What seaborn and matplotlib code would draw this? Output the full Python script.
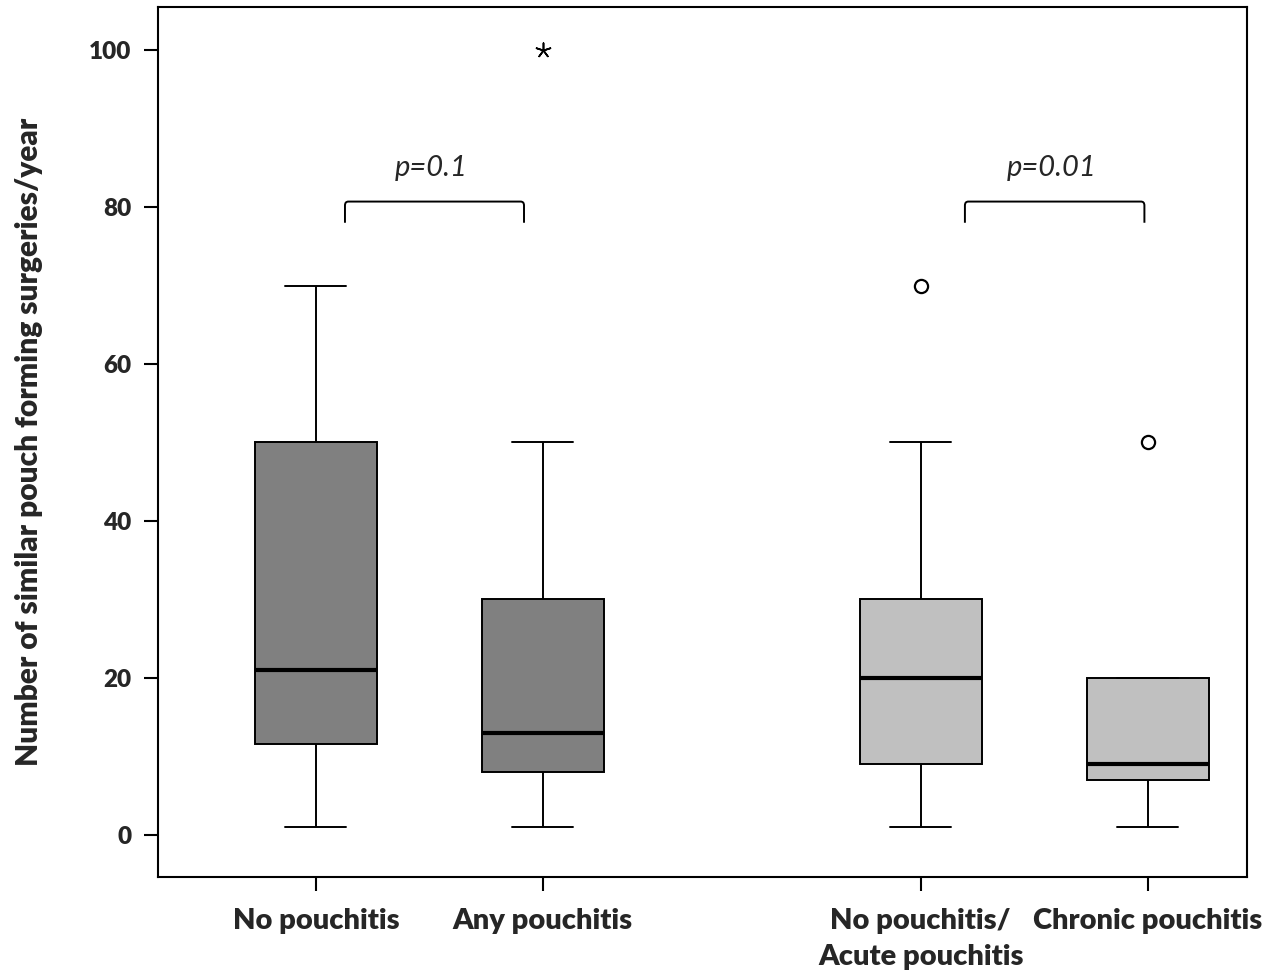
import numpy as np
import pandas as pd
import matplotlib
matplotlib.use("Agg")
import matplotlib.pyplot as plt
import seaborn as sns
from matplotlib.path import Path
from matplotlib.patches import PathPatch

# groups, x positions (gap between the two comparisons) and fill shade
groups = ["No pouchitis", "Any pouchitis", "No pouchitis/\nAcute pouchitis", "Chronic pouchitis"]
positions = [0.0, 1.0, 2.665, 3.665]
shades = ["dark", "dark", "light", "light"]

# values per group, chosen so the quartiles / whiskers / outliers match the figure
no_pouchitis = [1, 5, 11.5, 15, 21, 30, 50, 60, 70]
any_pouchitis = [1, 5, 8, 10, 13, 20, 30, 50, 100]
no_or_acute = [1, 5, 9, 15, 20, 25, 30, 50, 70]
chronic = [1, 5, 7, 8, 9, 15, 20, 20, 50]
values = [no_pouchitis, any_pouchitis, no_or_acute, chronic]

# p-value brackets: (left x, right x), bracket top, text
bracket_x = [(0.128, 0.917), (2.860, 3.651)]
bracket_y = 80.7
p_texts = ["p=0.1", "p=0.01"]

rows = []
for pos, shade, vals in zip(positions, shades, values):
    for v in vals:
        rows.append({"pos": pos, "value": v, "shade": shade})
df = pd.DataFrame(rows)

sns.set_style("white")
plt.rcParams["font.family"] = ["Lato", "DejaVu Sans"]

fig = plt.figure(figsize=(12.71, 9.77), dpi=100)
ax = fig.add_axes([0.1243, 0.1024, 0.9811 - 0.1243, 0.9928 - 0.1024])

sns.boxplot(data=df, x="pos", y="value", hue="shade", native_scale=True, dodge=False,
            palette={"dark": "#808080", "light": "#c0c0c0"}, saturation=1,
            width=0.538, whis=1.5, showfliers=False, legend=False,
            linecolor="black", linewidth=1.4,
            medianprops=dict(linewidth=3, color="black"), ax=ax)

# outliers: circles for >1.5 IQR, asterisk for >3 IQR
for pos, vals in zip(positions, values):
    vals = np.array(vals, dtype=float)
    q1, q3 = np.percentile(vals, [25, 75])
    iqr = q3 - q1
    out = vals[(vals > q3 + 1.5 * iqr) | (vals < q1 - 1.5 * iqr)]
    extreme = out[(out > q3 + 3 * iqr) | (out < q1 - 3 * iqr)]
    mild = out[~np.isin(out, extreme)]
    if len(mild):
        ax.scatter([pos] * len(mild), mild, s=90, facecolor="white",
                   edgecolor="black", linewidth=1.6, zorder=5)
    if len(extreme):
        ax.scatter([pos] * len(extreme), extreme, s=110, marker=(5, 2, 0),
                   color="black", linewidth=1.2, zorder=5)

# significance brackets with rounded corners
leg = 2.7
r = 0.5
for (x0, x1), txt in zip(bracket_x, p_texts):
    dx = 0.015
    verts = [(x0, bracket_y - leg), (x0, bracket_y - r), (x0, bracket_y), (x0 + dx, bracket_y),
             (x1 - dx, bracket_y), (x1, bracket_y), (x1, bracket_y - r), (x1, bracket_y - leg)]
    codes = [Path.MOVETO, Path.LINETO, Path.CURVE3, Path.CURVE3,
             Path.LINETO, Path.CURVE3, Path.CURVE3, Path.LINETO]
    ax.add_patch(PathPatch(Path(verts, codes), facecolor="none", edgecolor="black", lw=1.4))
    ax.text((x0 + x1) / 2 - 0.015, 84.0, txt, ha="center", va="baseline",
            fontsize=21, fontstyle="italic")

ax.set_xlim(-0.696, 4.103)
ax.set_ylim(-5.4, 105.5)
ax.set_xticks(positions)
ax.set_xticklabels(groups, fontsize=21, fontweight="heavy", linespacing=1.48)
ax.set_yticks([0, 20, 40, 60, 80, 100])
ax.set_yticklabels(["0", "20", "40", "60", "80", "100"], fontsize=17.5, fontweight="heavy")
ax.tick_params(axis="both", direction="out", length=10, width=1.5, color="black",
               bottom=True, left=True)
ax.tick_params(axis="y", pad=9)
ax.tick_params(axis="x", pad=12)
ax.set_xlabel("")
ax.set_ylabel("Number of similar pouch forming surgeries/year", fontsize=21.5, fontweight="heavy")
ax.yaxis.set_label_coords(-0.106, 0.5)
for sp in ax.spines.values():
    sp.set_visible(True)
    sp.set_color("black")
    sp.set_linewidth(1.5)

fig.savefig("out.png", dpi=100, facecolor="white")
